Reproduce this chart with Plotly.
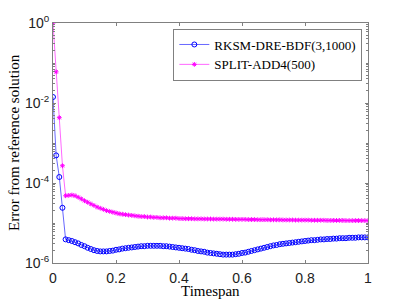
import plotly.graph_objects as go

timespan = [round(i * 0.01, 2) for i in range(101)]

rksm_err = [
    1.41e-2, 4.9e-4, 1.41e-4, 2.4e-5, 3.9e-6, 3.72e-6, 3.55e-6, 3.31e-6, 3.09e-6, 2.82e-6,
    2.63e-6, 2.40e-6, 2.24e-6, 2.09e-6, 2.00e-6, 1.95e-6, 1.95e-6, 1.95e-6, 2.00e-6, 2.04e-6,
    2.14e-6, 2.19e-6, 2.29e-6, 2.34e-6, 2.40e-6, 2.45e-6, 2.51e-6, 2.57e-6, 2.63e-6, 2.63e-6,
    2.69e-6, 2.69e-6, 2.69e-6, 2.69e-6, 2.69e-6, 2.63e-6, 2.63e-6, 2.57e-6, 2.51e-6, 2.45e-6,
    2.40e-6, 2.34e-6, 2.29e-6, 2.24e-6, 2.14e-6, 2.09e-6, 2.00e-6, 1.95e-6, 1.91e-6, 1.82e-6,
    1.78e-6, 1.74e-6, 1.70e-6, 1.66e-6, 1.62e-6, 1.62e-6, 1.62e-6, 1.62e-6, 1.66e-6, 1.70e-6,
    1.78e-6, 1.82e-6, 1.91e-6, 2.00e-6, 2.09e-6, 2.19e-6, 2.29e-6, 2.40e-6, 2.51e-6, 2.63e-6,
    2.75e-6, 2.82e-6, 2.95e-6, 3.02e-6, 3.09e-6, 3.16e-6, 3.24e-6, 3.31e-6, 3.39e-6, 3.47e-6,
    3.55e-6, 3.63e-6, 3.72e-6, 3.72e-6, 3.80e-6, 3.89e-6, 3.89e-6, 3.98e-6, 3.98e-6, 4.07e-6,
    4.07e-6, 4.17e-6, 4.17e-6, 4.17e-6, 4.27e-6, 4.27e-6, 4.27e-6, 4.37e-6, 4.37e-6, 4.37e-6,
    4.37e-6,
]

split_err = [
    1.0, 6.0e-2, 4.3e-3, 2.7e-4, 4.8e-5, 4.9e-5, 5.0e-5, 4.8e-5, 4.4e-5, 4.0e-5,
    3.6e-5, 3.3e-5, 3.0e-5, 2.75e-5, 2.5e-5, 2.34e-5, 2.19e-5, 2.04e-5, 1.95e-5, 1.86e-5,
    1.78e-5, 1.70e-5, 1.66e-5, 1.62e-5, 1.58e-5, 1.55e-5, 1.51e-5, 1.48e-5, 1.45e-5, 1.45e-5,
    1.41e-5, 1.41e-5, 1.38e-5, 1.38e-5, 1.35e-5, 1.35e-5, 1.35e-5, 1.32e-5, 1.32e-5, 1.32e-5,
    1.29e-5, 1.29e-5, 1.28e-5, 1.28e-5, 1.28e-5, 1.27e-5, 1.27e-5, 1.27e-5, 1.26e-5, 1.26e-5,
    1.26e-5, 1.25e-5, 1.25e-5, 1.25e-5, 1.25e-5, 1.24e-5, 1.24e-5, 1.24e-5, 1.23e-5, 1.23e-5,
    1.23e-5, 1.23e-5, 1.22e-5, 1.22e-5, 1.22e-5, 1.21e-5, 1.21e-5, 1.21e-5, 1.21e-5, 1.20e-5,
    1.20e-5, 1.20e-5, 1.20e-5, 1.19e-5, 1.19e-5, 1.19e-5, 1.19e-5, 1.18e-5, 1.18e-5, 1.18e-5,
    1.18e-5, 1.18e-5, 1.17e-5, 1.17e-5, 1.17e-5, 1.17e-5, 1.17e-5, 1.16e-5, 1.16e-5, 1.16e-5,
    1.16e-5, 1.16e-5, 1.16e-5, 1.15e-5, 1.15e-5, 1.15e-5, 1.15e-5, 1.15e-5, 1.15e-5, 1.15e-5,
    1.15e-5,
]

x_ticks = [0, 0.2, 0.4, 0.6, 0.8, 1]
x_tick_labels = ["0", "0.2", "0.4", "0.6", "0.8", "1"]
y_ticks = [1, 1e-2, 1e-4, 1e-6]
y_tick_labels = ["10<sup>0</sup>", "10<sup>-2</sup>", "10<sup>-4</sup>", "10<sup>-6</sup>"]

serif = "Liberation Serif, DejaVu Serif, serif"
sans = "Liberation Sans, Arial, sans-serif"

fig = go.Figure()
fig.add_trace(go.Scatter(
    x=timespan, y=rksm_err, name="RKSM-DRE-BDF(3,1000)", mode="lines+markers",
    line=dict(color="#0000ff", width=0.6),
    marker=dict(symbol="circle-open", size=5, color="#0000ff", line=dict(width=1, color="#0000ff")),
))
fig.add_trace(go.Scatter(
    x=timespan, y=split_err, name="SPLIT-ADD4(500)", mode="lines+markers",
    line=dict(color="#ff00ff", width=0.6),
    marker=dict(symbol="asterisk-open", size=4, color="#ff00ff", line=dict(width=1, color="#ff00ff")),
))

axis_common = dict(
    showline=True, linecolor="#808080", linewidth=1, mirror="ticks",
    ticks="inside", ticklen=3, tickcolor="#808080", showgrid=False, zeroline=False,
    tickfont=dict(family=sans, size=14, color="#222"),
)

fig.update_layout(
    width=407, height=305,
    margin=dict(l=53, r=39, t=23, b=42),
    paper_bgcolor="white", plot_bgcolor="white",
    showlegend=True,
    legend=dict(
        x=0.982, y=0.977, xanchor="right", yanchor="top",
        bgcolor="white", bordercolor="#808080", borderwidth=1,
        font=dict(family=serif, size=13, color="black"),
        tracegroupgap=0, itemwidth=30,
    ),
    xaxis=dict(range=[0, 1], tickvals=x_ticks, ticktext=x_tick_labels, ticklabelstandoff=2,
               **axis_common),
    yaxis=dict(
        type="log", range=[-6, 0], tickvals=y_ticks, ticktext=y_tick_labels,
        minor=dict(ticks="inside", ticklen=2, tickcolor="#808080", dtick="D1", showgrid=False),
        **axis_common,
    ),
    annotations=[
        dict(text="Timespan", xref="paper", yref="paper", x=0.5, y=0, yshift=-28,
             xanchor="center", yanchor="middle", showarrow=False,
             font=dict(family=serif, size=15, color="black")),
        dict(text="Error from reference solution", xref="paper", yref="paper", x=0, y=0.5,
             xshift=-39, xanchor="center", yanchor="middle", textangle=-90, showarrow=False,
             font=dict(family=serif, size=15, color="black")),
    ],
)

fig.write_html(
    "out.html",
    config={"displayModeBar": False},
    post_script="document.body.style.margin='0';document.body.style.overflow='hidden';",
)
